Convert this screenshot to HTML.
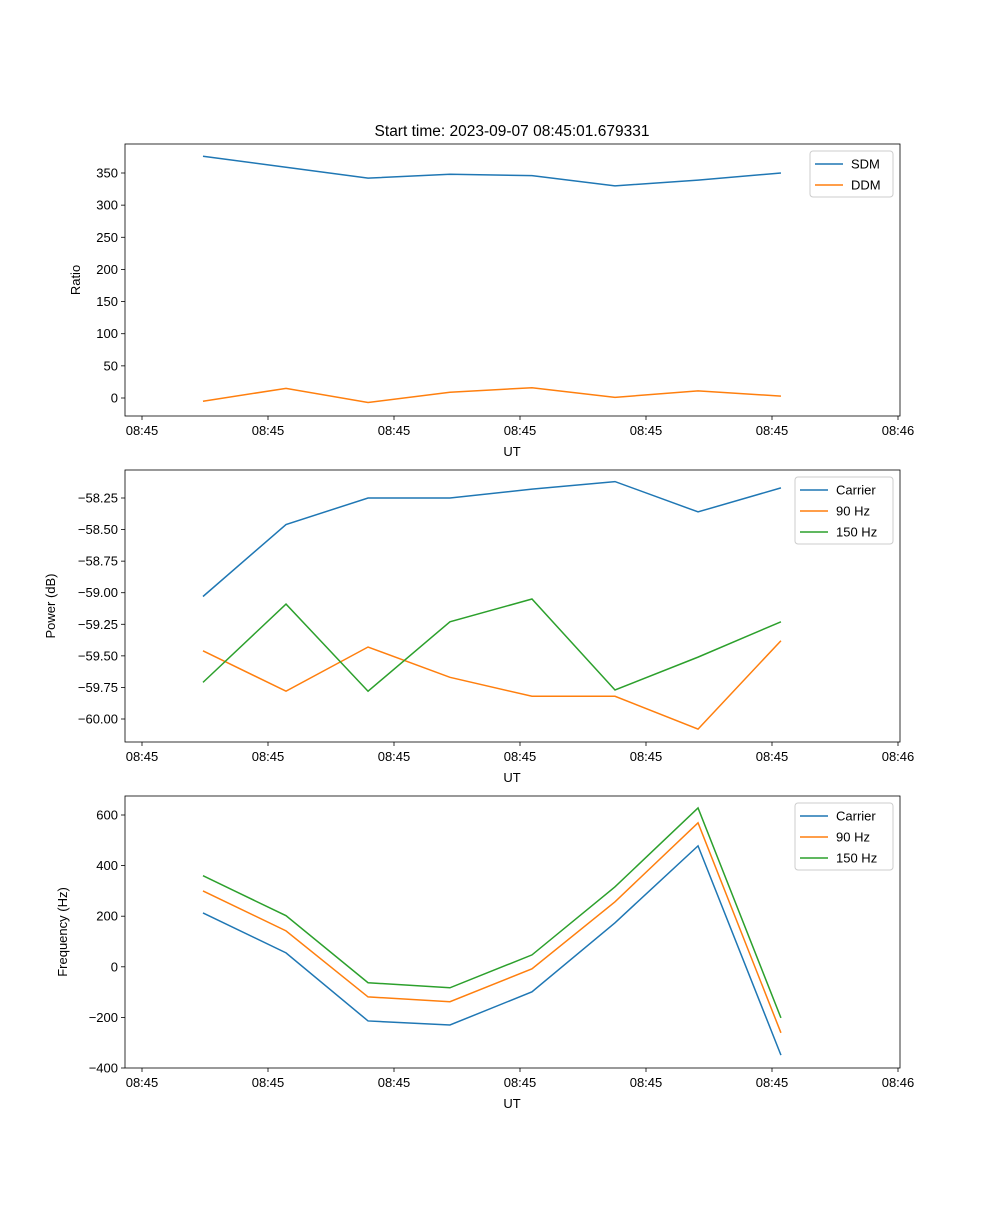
<!DOCTYPE html>
<html><head><meta charset="utf-8"><style>
body{margin:0;background:#fff}
svg text{font-family:"Liberation Sans","DejaVu Sans",sans-serif;font-size:13px;fill:#000}
</style></head><body>
<svg id="chart" width="1000" height="1200" xmlns="http://www.w3.org/2000/svg">
<rect width="1000" height="1200" fill="#fff"/>
<text x="512" y="136" text-anchor="middle" style="font-size:15.5px">Start time: 2023-09-07 08:45:01.679331</text>
</svg>
<script>
const xTimes=[4.84,11.43,17.94,24.44,30.95,37.54,44.13,50.71];
const xTickVals=[0,10,20,30,40,50,60];
const xTickLabels=["08:45","08:45","08:45","08:45","08:45","08:45","08:46"];
const sdm=[376,359,342,348,346,330,339,350];
const ddm=[-5,15,-7,9,16,1,11,3];
const powCarrier=[-59.03,-58.46,-58.25,-58.25,-58.18,-58.12,-58.36,-58.17];
const pow90=[-59.46,-59.78,-59.43,-59.67,-59.82,-59.82,-60.08,-59.38];
const pow150=[-59.71,-59.09,-59.78,-59.23,-59.05,-59.77,-59.51,-59.23];
const frqCarrier=[213,55,-214,-230,-99,174,478,-349];
const frq90=[300,142,-119,-138,-8,257,569,-261];
const frq150=[360,202,-63,-83,47,316,628,-202];
const ratioTicks=[0,50,100,150,200,250,300,350];
const powTicks=[-60.0,-59.75,-59.5,-59.25,-59.0,-58.75,-58.5,-58.25];
const powTickLabels=["\u221260.00","\u221259.75","\u221259.50","\u221259.25","\u221259.00","\u221258.75","\u221258.50","\u221258.25"];
const frqTicks=[-400,-200,0,200,400,600];
const frqTickLabels=["\u2212400","\u2212200","0","200","400","600"];

const NS="http://www.w3.org/2000/svg";
const svg=document.getElementById('chart');
function mk(tag,attrs,parent){const e=document.createElementNS(NS,tag);for(const k in attrs)e.setAttribute(k,attrs[k]);(parent||svg).appendChild(e);return e;}
const L=125,R=900;
const xs=t=>142+t*12.6;

function panel(name,top,bot,yv,ylo,yhi,ticks,tickLabels,ylabel,series,legend){
  const g=mk('g',{});
  
  
  const ys=v=>ylo.px+(v-ylo.v)*(yhi.px-ylo.px)/(yhi.v-ylo.v);
  ticks.forEach((v,i)=>{
    const y=ys(v);
    mk('line',{x1:L-4,x2:L,y1:y,y2:y,stroke:'#000','stroke-width':0.8},g);
    const t=mk('text',{x:L-7,y:y+4.5,'text-anchor':'end'},g);t.textContent=tickLabels[i];
    
    
  });
  xTickVals.forEach((v,i)=>{
    const x=xs(v);
    mk('line',{x1:x,x2:x,y1:bot,y2:bot+4,stroke:'#000','stroke-width':0.8},g);
    const t=mk('text',{x:x,y:bot+19,'text-anchor':'middle'},g);t.textContent=xTickLabels[i];
    
    
  });
  series.forEach(s=>{
    const p=mk('polyline',{points:s.d.map((v,i)=>xs(xTimes[i])+','+ys(v)).join(' '),fill:'none',stroke:s.c,'stroke-width':1.5},g);
    
    
  });
  mk('rect',{x:L,y:top,width:R-L,height:bot-top,fill:'none',stroke:'#000','stroke-width':0.8},g);
  const xl=mk('text',{x:512,y:bot+40,'text-anchor':'middle'},g);xl.textContent='UT';
  
  
  const yl=mk('text',{x:0,y:0,'text-anchor':'middle',transform:`translate(${legend.ylx},${(top+bot)/2}) rotate(-90)`},g);yl.textContent=ylabel;
  
  
  const lg=mk('g',{},g);
  
  
  mk('rect',{x:legend.x,y:top+7,width:R-7-legend.x,height:series.length*21+4,rx:3,fill:'#fff',stroke:'#ccc'},lg);
  series.forEach((s,i)=>{
    const y=top+7+13+i*21;
    mk('line',{x1:legend.x+5,x2:legend.x+33,y1:y,y2:y,stroke:s.c,'stroke-width':1.5},lg);
    const t=mk('text',{x:legend.x+41,y:y+4.5},lg);t.textContent=s.n;
    
    
  });
}
const B='#1f77b4',O='#ff7f0e',G='#2ca02c';
panel('ratio',144,416,null,{v:0,px:398},{v:350,px:173},ratioTicks,ratioTicks.map(String),'Ratio',
  [{n:'SDM',d:sdm,c:B},{n:'DDM',d:ddm,c:O}],{x:810,ylx:80});
panel('power',470,742,null,{v:-60,px:719},{v:-58.25,px:498},powTicks,powTickLabels,'Power (dB)',
  [{n:'Carrier',d:powCarrier,c:B},{n:'90 Hz',d:pow90,c:O},{n:'150 Hz',d:pow150,c:G}],{x:795,ylx:55});
panel('frequency',796,1068,null,{v:-400,px:1068},{v:600,px:815},frqTicks,frqTickLabels,'Frequency (Hz)',
  [{n:'Carrier',d:frqCarrier,c:B},{n:'90 Hz',d:frq90,c:O},{n:'150 Hz',d:frq150,c:G}],{x:795,ylx:67});
</script>
</body></html>
